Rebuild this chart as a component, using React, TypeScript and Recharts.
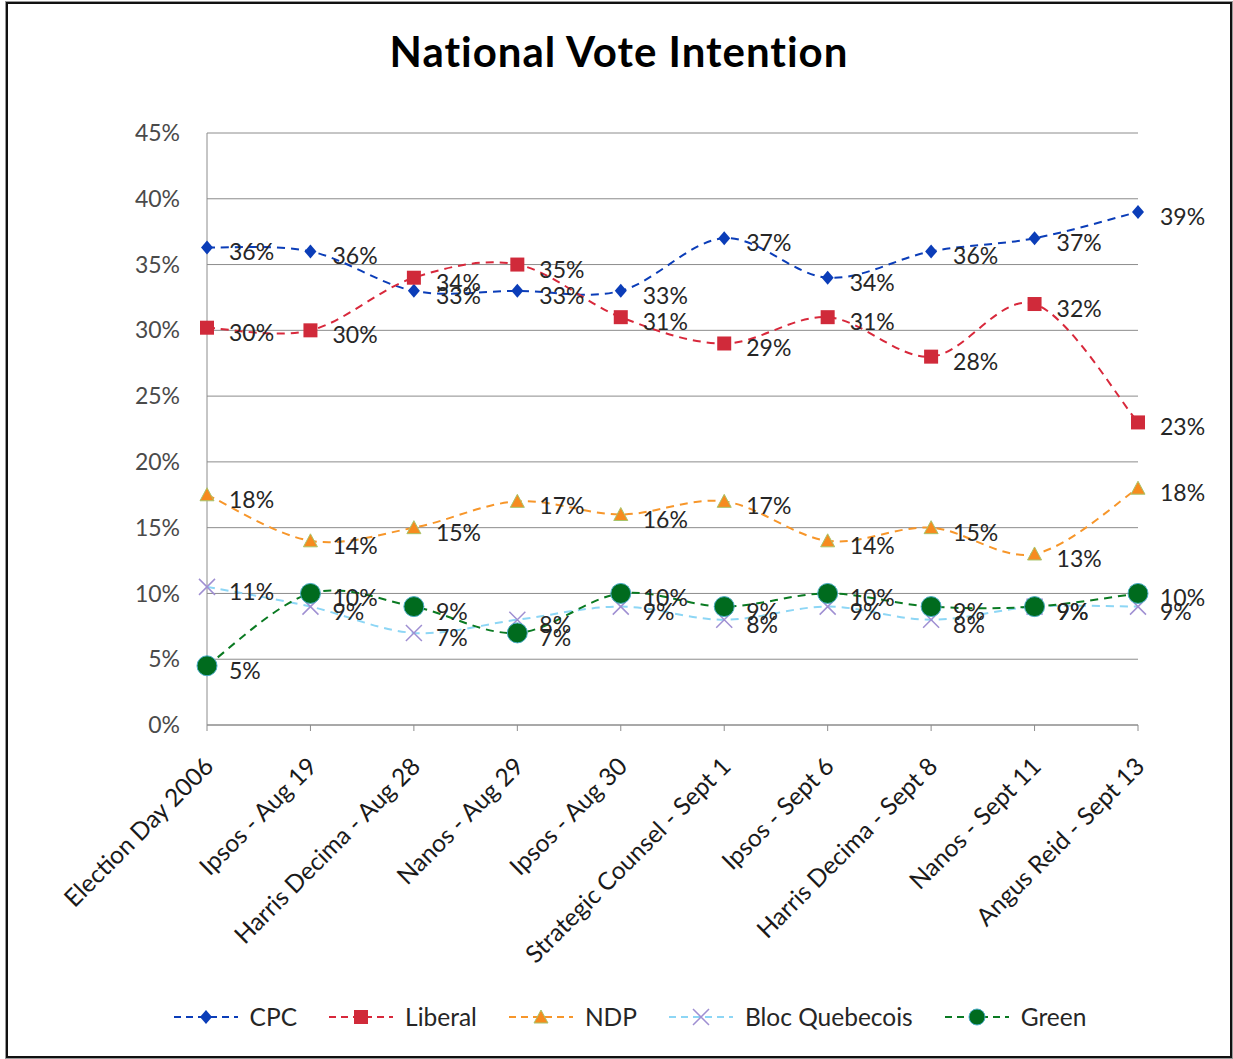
import React from 'react'
import { LineChart, Line, XAxis, YAxis, CartesianGrid, Legend, LabelList } from 'recharts'

const polls = [
  'Election Day 2006',
  'Ipsos - Aug 19',
  'Harris Decima - Aug 28',
  'Nanos - Aug 29',
  'Ipsos - Aug 30',
  'Strategic Counsel - Sept 1',
  'Ipsos - Sept 6',
  'Harris Decima - Sept 8',
  'Nanos - Sept 11',
  'Angus Reid - Sept 13',
]

const cpc = [36.3, 36, 33, 33, 33, 37, 34, 36, 37, 39]
const liberal = [30.2, 30, 34, 35, 31, 29, 31, 28, 32, 23]
const ndp = [17.5, 14, 15, 17, 16, 17, 14, 15, 13, 18]
const bloc = [10.5, 9, 7, 8, 9, 8, 9, 8, 9, 9]
const green = [4.5, 10, 9, 7, 10, 9, 10, 9, 9, 10]

const yTicks = [0, 5, 10, 15, 20, 25, 30, 35, 40, 45]

const data = polls.map((poll, i) => ({
  poll,
  cpc: cpc[i],
  liberal: liberal[i],
  ndp: ndp[i],
  bloc: bloc[i],
  green: green[i],
}))

const FONT = 'Lato, "Noto Sans", sans-serif'

// excel-style smoothed line (catmull-rom through the points)
function excelCurve(context: any) {
  let pts: number[][] = []
  return {
    areaStart() {},
    areaEnd() {},
    lineStart() {
      pts = []
    },
    point(x: number, y: number) {
      pts.push([+x, +y])
    },
    lineEnd() {
      const n = pts.length
      if (!n) return
      context.moveTo(pts[0][0], pts[0][1])
      for (let i = 0; i < n - 1; i++) {
        const p0 = pts[Math.max(i - 1, 0)]
        const p1 = pts[i]
        const p2 = pts[i + 1]
        const p3 = pts[Math.min(i + 2, n - 1)]
        context.bezierCurveTo(
          p1[0] + (p2[0] - p0[0]) / 6,
          p1[1] + (p2[1] - p0[1]) / 6,
          p2[0] - (p3[0] - p1[0]) / 6,
          p2[1] - (p3[1] - p1[1]) / 6,
          p2[0],
          p2[1]
        )
      }
    },
  }
}

const Diamond = ({ cx, cy, fill }: any) => (
  <path d={`M${cx},${cy - 7}L${cx + 6},${cy}L${cx},${cy + 7}L${cx - 6},${cy}Z`} fill={fill} />
)
const Square = ({ cx, cy, fill }: any) => (
  <rect x={cx - 7} y={cy - 7} width={14} height={14} fill={fill} />
)
const Triangle = ({ cx, cy, fill }: any) => (
  <path
    d={`M${cx},${cy - 7}L${cx + 7},${cy + 6}L${cx - 7},${cy + 6}Z`}
    fill={fill}
    stroke="#A9C46A"
    strokeWidth={1}
  />
)
const Cross = ({ cx, cy, fill }: any) => (
  <path
    d={`M${cx - 8},${cy - 8}L${cx + 8},${cy + 8}M${cx + 8},${cy - 8}L${cx - 8},${cy + 8}`}
    stroke={fill}
    strokeWidth={1.5}
    fill="none"
  />
)
const Circle = ({ cx, cy, fill, r = 10 }: any) => (
  <circle cx={cx} cy={cy} r={r} fill={fill} stroke="#4BACC6" strokeWidth={1} />
)

const series = [
  { key: 'cpc', name: 'CPC', color: '#0B3DB8', mark: '#0B3DB8', Dot: Diamond },
  { key: 'liberal', name: 'Liberal', color: '#D8283B', mark: '#D02A3A', Dot: Square },
  { key: 'ndp', name: 'NDP', color: '#F7962A', mark: '#F68B1F', Dot: Triangle },
  { key: 'bloc', name: 'Bloc Quebecois', color: '#8DD6F5', mark: '#9F8FD2', Dot: Cross },
  { key: 'green', name: 'Green', color: '#0A7A22', mark: '#006B1E', Dot: Circle },
]

const renderLabel = (props: any) => {
  const { x, y, value } = props
  return (
    <text
      x={x + 22}
      y={y + 4}
      dominantBaseline="central"
      fontSize={23}
      fontFamily={FONT}
      fill="#262626"
    >
      {Math.round(value)}%
    </text>
  )
}

const PollTick = ({ x, y, payload }: any) => (
  <g transform={`translate(${x + 8},${y + 35})`}>
    <text
      textAnchor="end"
      transform="rotate(-45)"
      fontSize={24.5}
      fontFamily={FONT}
      fill="#1a1a1a"
    >
      {payload.value}
    </text>
  </g>
)

const renderLegend = () => (
  <div
    style={{
      display: 'flex',
      justifyContent: 'center',
      alignItems: 'center',
      gap: 30,
      fontFamily: FONT,
      fontSize: 24.5,
      color: '#262626',
    }}
  >
    {series.map((s) => (
      <div key={s.key} style={{ display: 'flex', alignItems: 'center' }}>
        <svg width={68} height={26}>
          <line x1={2} y1={13} x2={66} y2={13} stroke={s.color} strokeWidth={2} strokeDasharray="7 5" />
          <s.Dot cx={34} cy={13} fill={s.mark} r={8} />
        </svg>
        <span style={{ marginLeft: 10 }}>{s.name}</span>
      </div>
    ))}
  </div>
)

export default function App() {
  return (
    <div
      style={{
        position: 'absolute',
        left: 5,
        top: 1,
        width: 1228,
        height: 1058,
        boxSizing: 'border-box',
        border: '1px solid #999',
        boxShadow: 'inset 0 0 0 2px #111',
        background: '#fff',
      }}
    >
      <div
        style={{
          position: 'absolute',
          left: 0,
          top: 24,
          width: 1226,
          textAlign: 'center',
          fontFamily: FONT,
          fontWeight: 700,
          fontSize: 42,
          letterSpacing: 1,
          color: '#000',
        }}
      >
        National Vote Intention
      </div>
      <div style={{ position: 'absolute', left: 0, top: 0 }}>
        <LineChart
          width={1226}
          height={1055}
          data={data}
          margin={{ top: 131, right: 94, bottom: 82, left: 121 }}
        >
          <CartesianGrid vertical={false} stroke="#8c8c8c" />
          <XAxis
            dataKey="poll"
            interval={0}
            height={250}
            tick={<PollTick />}
            stroke="#8c8c8c"
            tickLine={{ stroke: '#8c8c8c' }}
            tickSize={6}
          />
          <YAxis
            domain={[0, 45]}
            ticks={yTicks}
            width={80}
            tickFormatter={(v) => `${v}%`}
            tick={{ fontSize: 23, fontFamily: FONT, fill: '#4a4a4a' }}
            stroke="#8c8c8c"
            tickLine={false}
            tickSize={6}
            tickMargin={21}
          />
          <Legend
            verticalAlign="middle"
            align="center"
            layout="horizontal"
            content={renderLegend}
            wrapperStyle={{ top: 1000, left: 10, width: 1226 }}
          />
          {series.map((s) => (
            <Line
              key={s.key}
              dataKey={s.key}
              name={s.name}
              type={excelCurve as any}
              stroke={s.color}
              strokeWidth={2}
              strokeDasharray="8 6"
              dot={(p: any) => <s.Dot key={`${s.key}-${p.index}`} cx={p.cx} cy={p.cy} fill={s.mark} />}
              activeDot={false}
              isAnimationActive={false}
            >
              <LabelList dataKey={s.key} content={renderLabel} />
            </Line>
          ))}
        </LineChart>
      </div>
    </div>
  )
}
